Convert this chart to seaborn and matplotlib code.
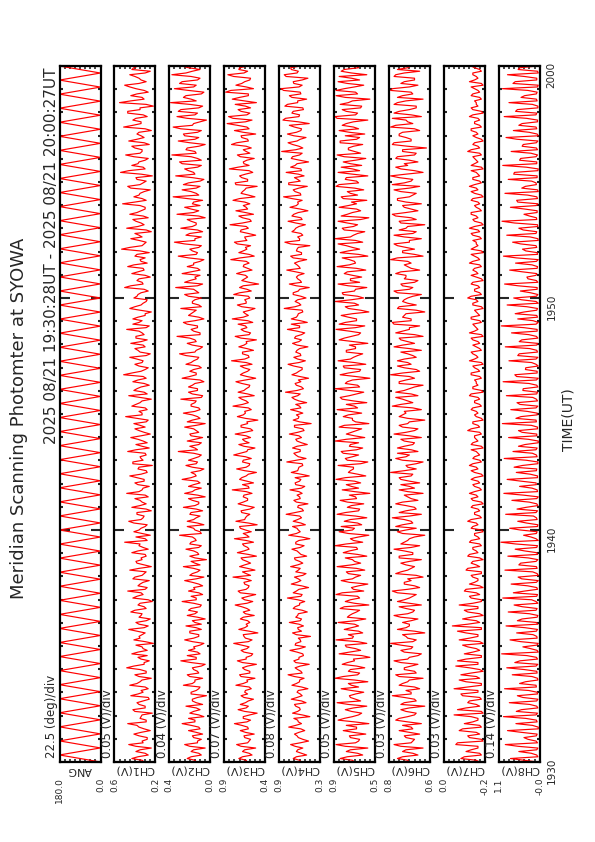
import numpy as np
import matplotlib
matplotlib.use("Agg")
import matplotlib.pyplot as plt
import seaborn as sns

title = "Meridian Scanning Photomter at SYOWA"
period = "2025 08/21 19:30:28UT - 2025 08/21 20:00:27UT"
time_ticks = [0, 10, 20, 30]          # minutes after 19:30 UT
time_labels = ["1930", "1940", "1950", "2000"]

names = ["ANG", "CH1(V)", "CH2(V)", "CH3(V)", "CH4(V)", "CH5(V)", "CH6(V)", "CH7(V)", "CH8(V)"]
units = ["deg", "V", "V", "V", "V", "V", "V", "V", "V"]
lows = [0.0, 0.2, 0.04, 0.36, 0.28, 0.5, 0.58, -0.2, -0.02]
steps = [22.5, 0.05, 0.04, 0.07, 0.08, 0.05, 0.03, 0.03, 0.14]

# scan mirror angle, turning points of the sweep
ang = [0, 180, 0, 180, 0, 180, 0, 180, 0, 180, 0, 180, 0, 180, 0, 180, 0, 180, 0, 180,
       0, 180, 0, 180, 0, 180, 0, 180, 0, 180, 0, 180, 0, 180, 0, 180, 0, 180, 0, 180,
       0, 180, 0, 180, 0, 180, 0, 180, 0, 180, 0, 180, 0, 180, 0, 180, 0, 180, 0, 180,
       0, 180, 0, 180, 0, 180, 0, 180, 0, 180, 0, 180, 0, 180, 0, 180, 0, 180, 0, 180,
       0, 180, 0, 180, 0, 180, 0, 180, 0, 180, 0, 180, 0, 180, 0, 180, 0, 180, 0, 180]

# photometer channels: samples of the up sweep and of the down sweep (volts)
ch1_up = [0.31, 0.43, 0.27, 0.39, 0.24, 0.46, 0.33, 0.28, 0.41, 0.25, 0.36, 0.47, 0.29, 0.34, 0.23, 0.42, 0.30, 0.38, 0.26, 0.44,
          0.32, 0.27, 0.45, 0.35, 0.24, 0.40, 0.29, 0.48, 0.31, 0.26, 0.37, 0.43, 0.28, 0.33, 0.22, 0.41, 0.36, 0.30, 0.46, 0.27,
          0.39, 0.25, 0.34, 0.44, 0.29, 0.37, 0.23, 0.42, 0.32, 0.47, 0.28, 0.35, 0.26, 0.40, 0.31, 0.45, 0.24, 0.38, 0.33, 0.29,
          0.43, 0.27, 0.36, 0.50, 0.30, 0.25, 0.41, 0.34, 0.28, 0.46, 0.32, 0.38, 0.24, 0.43, 0.29, 0.35, 0.27, 0.48, 0.33, 0.26,
          0.40, 0.31, 0.45, 0.28, 0.37, 0.23, 0.42, 0.34, 0.29, 0.47, 0.26, 0.39, 0.32, 0.44, 0.25, 0.36, 0.30, 0.41, 0.27, 0.49,
          0.33, 0.28, 0.43, 0.35, 0.24, 0.46, 0.31, 0.38, 0.26, 0.42, 0.29, 0.51, 0.34, 0.27, 0.40, 0.32, 0.45, 0.25, 0.37, 0.30,
          0.44, 0.28, 0.39, 0.33, 0.48, 0.26, 0.36, 0.42, 0.30, 0.24, 0.45, 0.34, 0.29, 0.41, 0.37, 0.27, 0.50, 0.32, 0.38, 0.25,
          0.43, 0.31, 0.47, 0.28, 0.35, 0.40, 0.26, 0.53, 0.33, 0.29, 0.44, 0.36, 0.24, 0.48, 0.31, 0.39, 0.27, 0.45, 0.34, 0.30,
          0.52, 0.29, 0.41, 0.35, 0.25, 0.47, 0.32, 0.38, 0.23, 0.54, 0.30, 0.43, 0.36, 0.27, 0.49, 0.33, 0.40, 0.26, 0.46, 0.31,
          0.38, 0.24, 0.51, 0.34, 0.42, 0.28, 0.47, 0.35, 0.22, 0.55, 0.31, 0.44, 0.27, 0.39, 0.50, 0.29, 0.36, 0.45, 0.25, 0.41]
ch1_down = [0.33, 0.37, 0.30, 0.35, 0.39, 0.32, 0.28, 0.36, 0.34, 0.31, 0.38, 0.29, 0.35, 0.33, 0.40, 0.30, 0.36, 0.32, 0.27, 0.37,
            0.34, 0.30, 0.38, 0.33, 0.36, 0.29, 0.35, 0.41, 0.31, 0.34, 0.28, 0.37, 0.32, 0.39, 0.30, 0.35, 0.33, 0.38, 0.31, 0.36,
            0.29, 0.36, 0.33, 0.40, 0.31, 0.35, 0.27, 0.38, 0.34, 0.30, 0.37, 0.32, 0.42, 0.33, 0.29, 0.36, 0.31, 0.39, 0.34, 0.30,
            0.37, 0.32, 0.35, 0.28, 0.39, 0.33, 0.36, 0.30, 0.41, 0.34, 0.31, 0.38, 0.29, 0.35, 0.33, 0.40, 0.30, 0.36, 0.32, 0.37,
            0.31, 0.38, 0.34, 0.29, 0.36, 0.42, 0.32, 0.35, 0.30, 0.39, 0.33, 0.28, 0.37, 0.34, 0.31, 0.40, 0.35, 0.29, 0.38, 0.33,
            0.36, 0.30, 0.39, 0.33, 0.35, 0.28, 0.41, 0.34, 0.31, 0.37, 0.32, 0.43, 0.30, 0.36, 0.33, 0.38, 0.29, 0.35, 0.40, 0.32,
            0.34, 0.39, 0.31, 0.36, 0.29, 0.42, 0.33, 0.37, 0.30, 0.35, 0.40, 0.32, 0.28, 0.38, 0.34, 0.31, 0.44, 0.33, 0.36, 0.30,
            0.37, 0.32, 0.41, 0.34, 0.30, 0.38, 0.35, 0.45, 0.31, 0.36, 0.33, 0.40, 0.29, 0.37, 0.34, 0.42, 0.32, 0.38, 0.30, 0.35,
            0.40, 0.33, 0.36, 0.31, 0.44, 0.35, 0.29, 0.39, 0.34, 0.46, 0.32, 0.37, 0.30, 0.41, 0.35, 0.33, 0.43, 0.31, 0.38, 0.34,
            0.36, 0.30, 0.42, 0.34, 0.39, 0.32, 0.47, 0.35, 0.29, 0.44, 0.33, 0.38, 0.31, 0.45, 0.36, 0.34, 0.40, 0.30, 0.43, 0.37]

ch2_up = [0.15, 0.22, 0.11, 0.19, 0.08, 0.24, 0.14, 0.17, 0.10, 0.21, 0.13, 0.26, 0.16, 0.09, 0.20, 0.12, 0.23, 0.15, 0.18, 0.07,
          0.19, 0.13, 0.25, 0.16, 0.10, 0.22, 0.14, 0.18, 0.08, 0.27, 0.15, 0.12, 0.21, 0.17, 0.09, 0.24, 0.13, 0.20, 0.11, 0.23,
          0.16, 0.08, 0.22, 0.14, 0.19, 0.11, 0.26, 0.15, 0.10, 0.21, 0.17, 0.13, 0.24, 0.09, 0.18, 0.12, 0.25, 0.16, 0.07, 0.20,
          0.14, 0.23, 0.11, 0.19, 0.16, 0.28, 0.12, 0.17, 0.09, 0.22, 0.15, 0.20, 0.10, 0.25, 0.13, 0.18, 0.08, 0.24, 0.16, 0.21,
          0.12, 0.26, 0.15, 0.19, 0.09, 0.23, 0.14, 0.17, 0.11, 0.29, 0.16, 0.13, 0.22, 0.10, 0.20, 0.15, 0.24, 0.08, 0.18, 0.14,
          0.25, 0.12, 0.19, 0.16, 0.27, 0.10, 0.21, 0.14, 0.18, 0.09, 0.26, 0.15, 0.20, 0.11, 0.23, 0.17, 0.13, 0.28, 0.15, 0.10,
          0.22, 0.16, 0.30, 0.12, 0.19, 0.14, 0.25, 0.09, 0.21, 0.17, 0.27, 0.13, 0.18, 0.11, 0.24, 0.15, 0.31, 0.10, 0.20, 0.16,
          0.26, 0.12, 0.22, 0.17, 0.09, 0.29, 0.14, 0.20, 0.11, 0.32, 0.16, 0.23, 0.10, 0.27, 0.15, 0.19, 0.08, 0.30, 0.13, 0.24,
          0.18, 0.10, 0.33, 0.15, 0.26, 0.12, 0.21, 0.09, 0.31, 0.17, 0.24, 0.11, 0.28, 0.14, 0.34, 0.16, 0.22, 0.08, 0.29, 0.13,
          0.25, 0.11, 0.33, 0.17, 0.07, 0.30, 0.14, 0.27, 0.10, 0.35, 0.19, 0.23, 0.09, 0.32, 0.15, 0.26, 0.12, 0.34, 0.18, 0.21]
ch2_down = [0.16, 0.19, 0.13, 0.17, 0.20, 0.14, 0.11, 0.18, 0.15, 0.12, 0.19, 0.16, 0.21, 0.13, 0.17, 0.15, 0.10, 0.18, 0.14, 0.19,
            0.15, 0.12, 0.18, 0.16, 0.20, 0.13, 0.17, 0.11, 0.19, 0.15, 0.22, 0.14, 0.16, 0.12, 0.18, 0.17, 0.13, 0.20, 0.15, 0.11,
            0.18, 0.14, 0.16, 0.21, 0.12, 0.17, 0.15, 0.19, 0.13, 0.16, 0.10, 0.18, 0.15, 0.20, 0.14, 0.17, 0.12, 0.19, 0.16, 0.13,
            0.17, 0.13, 0.20, 0.15, 0.18, 0.11, 0.16, 0.22, 0.14, 0.17, 0.12, 0.19, 0.15, 0.16, 0.13, 0.21, 0.14, 0.18, 0.11, 0.17,
            0.14, 0.19, 0.16, 0.12, 0.18, 0.15, 0.21, 0.13, 0.17, 0.14, 0.20, 0.11, 0.16, 0.19, 0.13, 0.17, 0.15, 0.22, 0.12, 0.18,
            0.16, 0.13, 0.19, 0.15, 0.11, 0.18, 0.14, 0.21, 0.16, 0.12, 0.20, 0.15, 0.17, 0.13, 0.19, 0.14, 0.23, 0.16, 0.12, 0.18,
            0.15, 0.20, 0.12, 0.17, 0.14, 0.22, 0.16, 0.13, 0.19, 0.15, 0.11, 0.18, 0.16, 0.21, 0.13, 0.17, 0.14, 0.24, 0.15, 0.12,
            0.19, 0.14, 0.17, 0.12, 0.21, 0.15, 0.18, 0.13, 0.24, 0.16, 0.11, 0.20, 0.14, 0.18, 0.15, 0.22, 0.13, 0.17, 0.19, 0.12,
            0.17, 0.22, 0.13, 0.19, 0.15, 0.25, 0.12, 0.18, 0.16, 0.21, 0.14, 0.26, 0.11, 0.19, 0.15, 0.23, 0.13, 0.20, 0.16, 0.24,
            0.14, 0.27, 0.18, 0.12, 0.22, 0.16, 0.29, 0.13, 0.20, 0.15, 0.25, 0.11, 0.21, 0.17, 0.28, 0.14, 0.19, 0.23, 0.12, 0.26]

ch3_up = [0.61, 0.72, 0.54, 0.67, 0.49, 0.75, 0.58, 0.64, 0.51, 0.70, 0.60, 0.78, 0.56, 0.66, 0.47, 0.73, 0.59, 0.63, 0.52, 0.69,
          0.64, 0.55, 0.76, 0.60, 0.50, 0.71, 0.57, 0.67, 0.48, 0.74, 0.62, 0.53, 0.69, 0.58, 0.79, 0.54, 0.65, 0.46, 0.72, 0.60,
          0.57, 0.70, 0.51, 0.66, 0.61, 0.77, 0.53, 0.68, 0.49, 0.73, 0.59, 0.64, 0.55, 0.80, 0.62, 0.50, 0.71, 0.56, 0.67, 0.48,
          0.74, 0.58, 0.65, 0.52, 0.78, 0.61, 0.55, 0.70, 0.47, 0.76, 0.63, 0.57, 0.69, 0.51, 0.73, 0.60, 0.66, 0.54, 0.81, 0.59,
          0.52, 0.71, 0.62, 0.48, 0.75, 0.58, 0.67, 0.55, 0.79, 0.61, 0.50, 0.72, 0.64, 0.56, 0.77, 0.53, 0.69, 0.60, 0.46, 0.74,
          0.63, 0.55, 0.80, 0.59, 0.68, 0.51, 0.73, 0.62, 0.57, 0.76, 0.49, 0.70, 0.60, 0.65, 0.54, 0.82, 0.58, 0.67, 0.52, 0.72,
          0.61, 0.48, 0.77, 0.56, 0.69, 0.63, 0.53, 0.81, 0.59, 0.66, 0.50, 0.74, 0.62, 0.57, 0.79, 0.55, 0.71, 0.45, 0.68, 0.60,
          0.75, 0.54, 0.66, 0.58, 0.83, 0.51, 0.72, 0.61, 0.56, 0.78, 0.63, 0.49, 0.70, 0.59, 0.84, 0.55, 0.67, 0.52, 0.76, 0.62,
          0.57, 0.80, 0.50, 0.69, 0.64, 0.47, 0.77, 0.60, 0.71, 0.53, 0.85, 0.58, 0.66, 0.51, 0.74, 0.62, 0.55, 0.82, 0.59, 0.68,
          0.49, 0.78, 0.61, 0.88, 0.54, 0.86, 0.57, 0.73, 0.63, 0.48, 0.81, 0.59, 0.90, 0.52, 0.76, 0.64, 0.56, 0.87, 0.60, 0.71]
ch3_down = [0.62, 0.67, 0.58, 0.64, 0.69, 0.60, 0.56, 0.65, 0.63, 0.59, 0.68, 0.61, 0.66, 0.57, 0.64, 0.62, 0.70, 0.59, 0.65, 0.60,
            0.63, 0.58, 0.66, 0.61, 0.69, 0.57, 0.64, 0.60, 0.67, 0.62, 0.55, 0.65, 0.61, 0.68, 0.59, 0.63, 0.66, 0.58, 0.64, 0.62,
            0.60, 0.66, 0.63, 0.57, 0.68, 0.61, 0.64, 0.59, 0.70, 0.62, 0.58, 0.65, 0.63, 0.56, 0.67, 0.60, 0.64, 0.61, 0.69, 0.59,
            0.65, 0.60, 0.67, 0.62, 0.58, 0.66, 0.63, 0.71, 0.59, 0.64, 0.61, 0.68, 0.57, 0.63, 0.66, 0.60, 0.65, 0.62, 0.58, 0.67,
            0.61, 0.68, 0.59, 0.64, 0.62, 0.57, 0.66, 0.63, 0.70, 0.60, 0.65, 0.58, 0.67, 0.62, 0.64, 0.56, 0.69, 0.61, 0.63, 0.66,
            0.64, 0.59, 0.67, 0.62, 0.72, 0.60, 0.65, 0.58, 0.68, 0.63, 0.61, 0.66, 0.57, 0.70, 0.62, 0.64, 0.59, 0.67, 0.61, 0.65,
            0.62, 0.69, 0.58, 0.65, 0.61, 0.73, 0.60, 0.66, 0.63, 0.57, 0.68, 0.62, 0.64, 0.59, 0.71, 0.61, 0.66, 0.58, 0.64, 0.63,
            0.67, 0.60, 0.65, 0.62, 0.70, 0.58, 0.66, 0.63, 0.74, 0.61, 0.64, 0.59, 0.69, 0.62, 0.67, 0.57, 0.72, 0.63, 0.60, 0.66,
            0.64, 0.71, 0.59, 0.67, 0.62, 0.76, 0.60, 0.68, 0.63, 0.58, 0.73, 0.65, 0.61, 0.70, 0.57, 0.66, 0.62, 0.75, 0.60, 0.69,
            0.66, 0.58, 0.74, 0.63, 0.80, 0.61, 0.69, 0.56, 0.77, 0.64, 0.71, 0.59, 0.83, 0.62, 0.68, 0.57, 0.79, 0.65, 0.72, 0.60]

ch4_up = [0.58, 0.70, 0.49, 0.65, 0.55, 0.74, 0.46, 0.62, 0.68, 0.52, 0.77, 0.57, 0.63, 0.44, 0.71, 0.59, 0.66, 0.50, 0.73, 0.56,
          0.64, 0.47, 0.72, 0.60, 0.53, 0.78, 0.58, 0.67, 0.45, 0.69, 0.61, 0.55, 0.75, 0.51, 0.66, 0.59, 0.43, 0.71, 0.62, 0.54,
          0.76, 0.57, 0.63, 0.48, 0.70, 0.60, 0.52, 0.79, 0.56, 0.65, 0.46, 0.73, 0.58, 0.68, 0.50, 0.62, 0.74, 0.55, 0.67, 0.49,
          0.61, 0.72, 0.53, 0.66, 0.44, 0.77, 0.59, 0.64, 0.51, 0.70, 0.57, 0.81, 0.54, 0.63, 0.47, 0.69, 0.60, 0.56, 0.75, 0.52,
          0.67, 0.58, 0.45, 0.73, 0.62, 0.55, 0.80, 0.50, 0.66, 0.59, 0.71, 0.48, 0.64, 0.57, 0.76, 0.53, 0.68, 0.42, 0.70, 0.61,
          0.55, 0.74, 0.60, 0.49, 0.68, 0.63, 0.82, 0.54, 0.65, 0.58, 0.46, 0.72, 0.61, 0.56, 0.78, 0.51, 0.69, 0.59, 0.64, 0.47,
          0.71, 0.57, 0.66, 0.52, 0.79, 0.60, 0.48, 0.73, 0.63, 0.55, 0.84, 0.58, 0.67, 0.50, 0.70, 0.62, 0.45, 0.76, 0.59, 0.65,
          0.53, 0.80, 0.61, 0.68, 0.49, 0.74, 0.57, 0.64, 0.44, 0.83, 0.60, 0.55, 0.72, 0.66, 0.51, 0.78, 0.58, 0.69, 0.47, 0.75,
          0.62, 0.56, 0.85, 0.59, 0.70, 0.48, 0.77, 0.63, 0.53, 0.81, 0.58, 0.67, 0.46, 0.73, 0.60, 0.88, 0.55, 0.71, 0.64, 0.50,
          0.79, 0.58, 0.68, 0.45, 0.86, 0.61, 0.72, 0.54, 0.83, 0.63, 0.49, 0.76, 0.59, 0.89, 0.56, 0.70, 0.47, 0.84, 0.62, 0.74]
ch4_down = [0.60, 0.65, 0.57, 0.63, 0.67, 0.59, 0.55, 0.64, 0.61, 0.58, 0.66, 0.62, 0.69, 0.56, 0.63, 0.60, 0.68, 0.57, 0.64, 0.59,
            0.62, 0.57, 0.65, 0.60, 0.68, 0.56, 0.63, 0.59, 0.66, 0.61, 0.54, 0.64, 0.60, 0.67, 0.58, 0.62, 0.65, 0.57, 0.63, 0.61,
            0.59, 0.66, 0.62, 0.56, 0.67, 0.60, 0.63, 0.58, 0.70, 0.61, 0.57, 0.64, 0.62, 0.55, 0.66, 0.59, 0.63, 0.60, 0.68, 0.58,
            0.64, 0.59, 0.66, 0.61, 0.57, 0.65, 0.62, 0.71, 0.58, 0.63, 0.60, 0.67, 0.56, 0.62, 0.65, 0.59, 0.64, 0.61, 0.57, 0.66,
            0.60, 0.67, 0.58, 0.63, 0.61, 0.56, 0.65, 0.62, 0.69, 0.59, 0.64, 0.57, 0.66, 0.61, 0.63, 0.55, 0.68, 0.60, 0.62, 0.65,
            0.63, 0.58, 0.66, 0.61, 0.72, 0.59, 0.64, 0.57, 0.67, 0.62, 0.60, 0.65, 0.56, 0.69, 0.61, 0.63, 0.58, 0.66, 0.60, 0.64,
            0.61, 0.68, 0.57, 0.64, 0.60, 0.73, 0.59, 0.65, 0.62, 0.56, 0.67, 0.61, 0.63, 0.58, 0.70, 0.60, 0.65, 0.57, 0.63, 0.62,
            0.66, 0.59, 0.64, 0.61, 0.70, 0.57, 0.65, 0.62, 0.74, 0.60, 0.63, 0.58, 0.68, 0.61, 0.66, 0.56, 0.72, 0.62, 0.59, 0.65,
            0.63, 0.72, 0.58, 0.67, 0.61, 0.77, 0.59, 0.68, 0.62, 0.57, 0.74, 0.64, 0.60, 0.71, 0.56, 0.66, 0.61, 0.78, 0.59, 0.69,
            0.65, 0.57, 0.76, 0.62, 0.82, 0.60, 0.70, 0.55, 0.79, 0.63, 0.72, 0.58, 0.85, 0.61, 0.69, 0.56, 0.81, 0.64, 0.73, 0.59]

ch5_up = [0.70, 0.84, 0.62, 0.78, 0.57, 0.88, 0.66, 0.74, 0.59, 0.81, 0.68, 0.56, 0.86, 0.72, 0.63, 0.79, 0.58, 0.87, 0.69, 0.75,
          0.61, 0.83, 0.73, 0.57, 0.89, 0.67, 0.76, 0.60, 0.82, 0.70, 0.55, 0.85, 0.64, 0.78, 0.58, 0.88, 0.71, 0.62, 0.80, 0.66,
          0.86, 0.59, 0.75, 0.68, 0.84, 0.56, 0.79, 0.65, 0.88, 0.61, 0.73, 0.57, 0.83, 0.69, 0.76, 0.60, 0.87, 0.64, 0.72, 0.58,
          0.81, 0.67, 0.89, 0.62, 0.74, 0.56, 0.85, 0.70, 0.63, 0.80, 0.58, 0.87, 0.66, 0.77, 0.61, 0.84, 0.69, 0.55, 0.82, 0.73,
          0.64, 0.88, 0.59, 0.76, 0.71, 0.86, 0.57, 0.79, 0.66, 0.83, 0.62, 0.74, 0.89, 0.60, 0.78, 0.68, 0.85, 0.56, 0.72, 0.81,
          0.63, 0.87, 0.70, 0.58, 0.82, 0.75, 0.61, 0.89, 0.67, 0.77, 0.55, 0.84, 0.65, 0.80, 0.59, 0.86, 0.71, 0.62, 0.78, 0.69,
          0.57, 0.85, 0.73, 0.64, 0.88, 0.60, 0.79, 0.68, 0.83, 0.56, 0.76, 0.66, 0.89, 0.61, 0.81, 0.70, 0.58, 0.86, 0.74, 0.63,
          0.80, 0.59, 0.87, 0.69, 0.75, 0.57, 0.84, 0.65, 0.78, 0.62, 0.89, 0.71, 0.60, 0.82, 0.67, 0.86, 0.56, 0.77, 0.64, 0.85,
          0.68, 0.58, 0.83, 0.74, 0.61, 0.88, 0.66, 0.79, 0.57, 0.86, 0.72, 0.63, 0.81, 0.59, 0.87, 0.70, 0.76, 0.62, 0.84, 0.65,
          0.60, 0.85, 0.71, 0.78, 0.57, 0.89, 0.67, 0.82, 0.63, 0.76, 0.55, 0.88, 0.69, 0.80, 0.61, 0.86, 0.73, 0.58, 0.83, 0.66]
ch5_down = [0.72, 0.77, 0.67, 0.74, 0.79, 0.69, 0.65, 0.75, 0.71, 0.68, 0.78, 0.70, 0.80, 0.66, 0.73, 0.71, 0.76, 0.64, 0.74, 0.69,
            0.73, 0.66, 0.76, 0.70, 0.81, 0.65, 0.74, 0.68, 0.77, 0.71, 0.63, 0.75, 0.69, 0.79, 0.67, 0.72, 0.76, 0.66, 0.73, 0.70,
            0.69, 0.77, 0.72, 0.65, 0.80, 0.70, 0.74, 0.67, 0.82, 0.71, 0.66, 0.75, 0.72, 0.64, 0.78, 0.68, 0.73, 0.70, 0.79, 0.67,
            0.75, 0.68, 0.78, 0.71, 0.66, 0.76, 0.72, 0.83, 0.67, 0.74, 0.69, 0.79, 0.65, 0.73, 0.77, 0.68, 0.75, 0.70, 0.66, 0.78,
            0.70, 0.79, 0.67, 0.74, 0.71, 0.64, 0.77, 0.72, 0.81, 0.68, 0.75, 0.66, 0.78, 0.70, 0.73, 0.63, 0.80, 0.69, 0.72, 0.76,
            0.74, 0.67, 0.78, 0.71, 0.84, 0.68, 0.75, 0.65, 0.79, 0.72, 0.69, 0.76, 0.64, 0.81, 0.70, 0.74, 0.67, 0.78, 0.69, 0.75,
            0.71, 0.80, 0.66, 0.75, 0.69, 0.85, 0.68, 0.76, 0.72, 0.64, 0.79, 0.70, 0.73, 0.67, 0.82, 0.69, 0.76, 0.65, 0.74, 0.72,
            0.77, 0.68, 0.75, 0.70, 0.82, 0.66, 0.76, 0.72, 0.86, 0.69, 0.74, 0.67, 0.80, 0.71, 0.77, 0.64, 0.83, 0.72, 0.68, 0.76,
            0.73, 0.81, 0.67, 0.77, 0.70, 0.85, 0.68, 0.78, 0.72, 0.65, 0.83, 0.74, 0.69, 0.80, 0.64, 0.76, 0.71, 0.84, 0.68, 0.79,
            0.75, 0.66, 0.82, 0.71, 0.87, 0.69, 0.78, 0.64, 0.84, 0.72, 0.79, 0.67, 0.88, 0.70, 0.77, 0.65, 0.85, 0.73, 0.80, 0.68]

ch6_up = [0.70, 0.77, 0.65, 0.74, 0.62, 0.79, 0.68, 0.72, 0.64, 0.76, 0.69, 0.63, 0.78, 0.71, 0.66, 0.75, 0.61, 0.73, 0.67, 0.80,
          0.69, 0.64, 0.76, 0.71, 0.62, 0.78, 0.67, 0.73, 0.65, 0.79, 0.70, 0.63, 0.75, 0.68, 0.81, 0.66, 0.72, 0.61, 0.77, 0.70,
          0.74, 0.65, 0.79, 0.68, 0.72, 0.63, 0.77, 0.70, 0.66, 0.80, 0.64, 0.73, 0.69, 0.62, 0.78, 0.71, 0.67, 0.75, 0.63, 0.76,
          0.68, 0.79, 0.64, 0.73, 0.70, 0.61, 0.77, 0.66, 0.74, 0.69, 0.80, 0.63, 0.72, 0.67, 0.78, 0.65, 0.71, 0.62, 0.76, 0.70,
          0.64, 0.75, 0.69, 0.81, 0.66, 0.72, 0.62, 0.78, 0.70, 0.65, 0.77, 0.68, 0.73, 0.63, 0.79, 0.67, 0.74, 0.71, 0.61, 0.76,
          0.72, 0.63, 0.80, 0.68, 0.74, 0.65, 0.78, 0.70, 0.62, 0.76, 0.67, 0.81, 0.64, 0.73, 0.69, 0.77, 0.66, 0.71, 0.63, 0.79,
          0.67, 0.75, 0.62, 0.78, 0.70, 0.64, 0.80, 0.69, 0.73, 0.61, 0.77, 0.66, 0.74, 0.71, 0.63, 0.79, 0.68, 0.75, 0.65, 0.72,
          0.78, 0.64, 0.71, 0.69, 0.81, 0.62, 0.74, 0.67, 0.77, 0.70, 0.63, 0.79, 0.66, 0.72, 0.61, 0.76, 0.69, 0.80, 0.65, 0.73,
          0.63, 0.77, 0.70, 0.66, 0.79, 0.64, 0.73, 0.68, 0.81, 0.62, 0.75, 0.71, 0.65, 0.78, 0.67, 0.74, 0.60, 0.80, 0.69, 0.72,
          0.76, 0.64, 0.81, 0.68, 0.72, 0.63, 0.79, 0.70, 0.66, 0.77, 0.62, 0.74, 0.69, 0.80, 0.65, 0.73, 0.67, 0.78, 0.64, 0.71]
ch6_down = [0.71, 0.74, 0.68, 0.72, 0.75, 0.69, 0.67, 0.73, 0.70, 0.68, 0.74, 0.71, 0.76, 0.67, 0.72, 0.70, 0.75, 0.66, 0.73, 0.69,
            0.72, 0.67, 0.74, 0.70, 0.76, 0.66, 0.73, 0.69, 0.75, 0.71, 0.65, 0.73, 0.69, 0.75, 0.68, 0.71, 0.74, 0.67, 0.72, 0.70,
            0.69, 0.75, 0.71, 0.67, 0.76, 0.70, 0.73, 0.68, 0.77, 0.71, 0.67, 0.73, 0.71, 0.66, 0.75, 0.69, 0.72, 0.70, 0.76, 0.68,
            0.73, 0.69, 0.75, 0.71, 0.67, 0.74, 0.72, 0.78, 0.68, 0.73, 0.70, 0.76, 0.66, 0.72, 0.74, 0.69, 0.73, 0.71, 0.67, 0.75,
            0.70, 0.76, 0.68, 0.73, 0.71, 0.66, 0.74, 0.72, 0.77, 0.69, 0.73, 0.67, 0.75, 0.70, 0.72, 0.65, 0.76, 0.70, 0.71, 0.74,
            0.73, 0.68, 0.75, 0.71, 0.78, 0.69, 0.73, 0.67, 0.76, 0.72, 0.70, 0.74, 0.66, 0.77, 0.71, 0.73, 0.68, 0.75, 0.70, 0.74,
            0.71, 0.76, 0.67, 0.74, 0.70, 0.79, 0.69, 0.74, 0.72, 0.66, 0.76, 0.71, 0.73, 0.68, 0.77, 0.70, 0.74, 0.67, 0.73, 0.72,
            0.75, 0.69, 0.73, 0.71, 0.77, 0.67, 0.74, 0.72, 0.79, 0.70, 0.73, 0.68, 0.76, 0.71, 0.75, 0.66, 0.78, 0.72, 0.69, 0.74,
            0.72, 0.77, 0.68, 0.75, 0.70, 0.80, 0.69, 0.76, 0.72, 0.67, 0.78, 0.73, 0.70, 0.77, 0.66, 0.74, 0.71, 0.79, 0.69, 0.76,
            0.74, 0.67, 0.78, 0.71, 0.80, 0.69, 0.76, 0.66, 0.79, 0.72, 0.77, 0.68, 0.81, 0.70, 0.75, 0.67, 0.79, 0.73, 0.77, 0.69]

ch7_up = [-0.17, -0.06, -0.18, -0.09, -0.16, -0.03, -0.19, -0.11, -0.17, -0.05, -0.18, -0.08, -0.16, -0.12, -0.19, -0.04, -0.17, -0.10, -0.18, -0.07,
          -0.16, -0.02, -0.18, -0.09, -0.17, -0.06, -0.19, -0.11, -0.16, -0.04, -0.18, -0.08, -0.17, -0.10, -0.19, -0.05, -0.16, -0.09, -0.18, -0.01,
          -0.17, -0.07, -0.19, -0.10, -0.16, -0.05, -0.18, -0.12, -0.17, -0.08, -0.19, -0.11, -0.16, -0.13, -0.18, -0.09, -0.17, -0.12, -0.19, -0.10,
          -0.16, -0.13, -0.18, -0.11, -0.17, -0.14, -0.19, -0.12, -0.16, -0.10, -0.18, -0.14, -0.17, -0.12, -0.19, -0.13, -0.16, -0.11, -0.18, -0.14,
          -0.17, -0.12, -0.19, -0.14, -0.16, -0.11, -0.18, -0.13, -0.17, -0.15, -0.19, -0.12, -0.16, -0.14, -0.18, -0.10, -0.17, -0.13, -0.19, -0.15,
          -0.16, -0.12, -0.18, -0.14, -0.17, -0.11, -0.19, -0.13, -0.16, -0.15, -0.18, -0.12, -0.17, -0.14, -0.19, -0.11, -0.16, -0.13, -0.18, -0.15,
          -0.17, -0.13, -0.19, -0.11, -0.16, -0.14, -0.18, -0.12, -0.17, -0.15, -0.19, -0.13, -0.16, -0.10, -0.18, -0.14, -0.17, -0.12, -0.19, -0.15,
          -0.16, -0.13, -0.18, -0.11, -0.17, -0.14, -0.19, -0.12, -0.16, -0.15, -0.18, -0.13, -0.17, -0.11, -0.19, -0.14, -0.16, -0.12, -0.18, -0.15,
          -0.17, -0.12, -0.19, -0.14, -0.16, -0.11, -0.18, -0.13, -0.17, -0.15, -0.19, -0.12, -0.16, -0.14, -0.18, -0.10, -0.17, -0.13, -0.19, -0.15,
          -0.16, -0.12, -0.18, -0.14, -0.17, -0.11, -0.19, -0.13, -0.16, -0.15, -0.18, -0.12, -0.17, -0.14, -0.19, -0.11, -0.16, -0.13, -0.18, -0.14]
ch7_down = [-0.15, -0.08, -0.17, -0.12, -0.16, -0.04, -0.18, -0.10, -0.15, -0.07, -0.17, -0.13, -0.16, -0.02, -0.18, -0.09, -0.15, -0.11, -0.17, -0.06,
            -0.16, -0.10, -0.18, -0.05, -0.15, -0.12, -0.17, -0.03, -0.16, -0.09, -0.18, -0.13, -0.15, -0.07, -0.17, -0.11, -0.16, -0.04, -0.18, -0.10,
            -0.15, -0.12, -0.17, -0.08, -0.16, -0.13, -0.18, -0.11, -0.15, -0.09, -0.17, -0.14, -0.16, -0.12, -0.18, -0.10, -0.15, -0.13, -0.17, -0.11,
            -0.15, -0.13, -0.17, -0.12, -0.16, -0.14, -0.18, -0.13, -0.15, -0.12, -0.17, -0.14, -0.16, -0.13, -0.18, -0.12, -0.15, -0.14, -0.17, -0.13,
            -0.16, -0.14, -0.18, -0.12, -0.15, -0.13, -0.17, -0.14, -0.16, -0.12, -0.18, -0.13, -0.15, -0.14, -0.17, -0.12, -0.16, -0.13, -0.18, -0.14,
            -0.15, -0.13, -0.17, -0.14, -0.16, -0.12, -0.18, -0.13, -0.15, -0.14, -0.17, -0.12, -0.16, -0.13, -0.18, -0.14, -0.15, -0.12, -0.17, -0.13,
            -0.16, -0.12, -0.18, -0.14, -0.15, -0.13, -0.17, -0.12, -0.16, -0.14, -0.18, -0.13, -0.15, -0.12, -0.17, -0.14, -0.16, -0.13, -0.18, -0.12,
            -0.15, -0.14, -0.17, -0.13, -0.16, -0.12, -0.18, -0.14, -0.15, -0.13, -0.17, -0.12, -0.16, -0.14, -0.18, -0.13, -0.15, -0.12, -0.17, -0.14,
            -0.16, -0.13, -0.18, -0.12, -0.15, -0.14, -0.17, -0.13, -0.16, -0.12, -0.18, -0.14, -0.15, -0.13, -0.17, -0.12, -0.16, -0.14, -0.18, -0.13,
            -0.15, -0.12, -0.17, -0.14, -0.16, -0.13, -0.18, -0.12, -0.15, -0.14, -0.17, -0.13, -0.16, -0.12, -0.18, -0.14, -0.15, -0.13, -0.17, -0.12]

ch8_up = [0.04, 0.78, 0.06, 0.55, 0.03, 0.92, 0.08, 0.41, 0.05, 0.86, 0.02, 0.63, 0.07, 0.97, 0.04, 0.48, 0.06, 0.81, 0.03, 0.59,
          0.05, 0.94, 0.08, 0.37, 0.04, 0.73, 0.06, 0.88, 0.03, 0.52, 0.07, 1.02, 0.05, 0.44, 0.02, 0.79, 0.06, 0.61, 0.04, 0.90,
          0.07, 0.46, 0.03, 0.84, 0.05, 0.68, 0.08, 0.99, 0.04, 0.39, 0.06, 0.76, 0.02, 0.57, 0.05, 0.93, 0.07, 0.50, 0.03, 0.85,
          0.06, 0.65, 0.04, 1.04, 0.08, 0.42, 0.05, 0.80, 0.03, 0.58, 0.07, 0.91, 0.04, 0.35, 0.06, 0.74, 0.02, 0.96, 0.05, 0.53,
          0.08, 0.87, 0.04, 0.62, 0.06, 0.45, 0.03, 0.95, 0.07, 0.71, 0.05, 0.38, 0.02, 0.83, 0.06, 0.56, 0.04, 1.00, 0.08, 0.49,
          0.05, 0.77, 0.03, 0.60, 0.07, 0.89, 0.04, 0.43, 0.06, 0.98, 0.02, 0.66, 0.05, 0.36, 0.08, 0.82, 0.03, 0.54, 0.06, 0.92,
          0.04, 0.47, 0.07, 0.75, 0.05, 1.03, 0.02, 0.58, 0.06, 0.40, 0.04, 0.87, 0.08, 0.69, 0.03, 0.51, 0.05, 0.94, 0.07, 0.33,
          0.06, 0.80, 0.04, 0.64, 0.02, 0.97, 0.05, 0.45, 0.08, 0.72, 0.03, 0.88, 0.06, 0.55, 0.04, 1.01, 0.07, 0.41, 0.05, 0.78,
          0.03, 0.61, 0.06, 0.93, 0.04, 0.37, 0.08, 0.84, 0.05, 0.67, 0.02, 0.99, 0.06, 0.50, 0.04, 0.76, 0.07, 0.43, 0.03, 0.90,
          0.05, 0.70, 0.08, 0.46, 0.04, 0.95, 0.06, 0.59, 0.03, 0.82, 0.07, 0.39, 0.05, 1.00, 0.02, 0.65, 0.06, 0.86, 0.04, 0.52]
ch8_down = [0.42, 0.03, 0.21, 0.06, 0.57, 0.04, 0.30, 0.07, 0.48, 0.02, 0.18, 0.05, 0.36, 0.08, 0.62, 0.03, 0.25, 0.06, 0.44, 0.04,
            0.28, 0.07, 0.53, 0.03, 0.19, 0.05, 0.40, 0.08, 0.66, 0.04, 0.33, 0.02, 0.23, 0.06, 0.50, 0.05, 0.16, 0.07, 0.38, 0.03,
            0.59, 0.05, 0.26, 0.08, 0.45, 0.03, 0.20, 0.06, 0.70, 0.04, 0.31, 0.07, 0.47, 0.02, 0.17, 0.05, 0.55, 0.08, 0.29, 0.04,
            0.39, 0.06, 0.64, 0.02, 0.22, 0.07, 0.51, 0.04, 0.34, 0.05, 0.15, 0.08, 0.60, 0.03, 0.27, 0.06, 0.43, 0.04, 0.19, 0.07,
            0.49, 0.04, 0.24, 0.07, 0.68, 0.03, 0.35, 0.05, 0.18, 0.08, 0.56, 0.02, 0.29, 0.06, 0.46, 0.04, 0.21, 0.07, 0.63, 0.05,
            0.32, 0.08, 0.52, 0.04, 0.17, 0.06, 0.44, 0.03, 0.27, 0.07, 0.61, 0.05, 0.37, 0.02, 0.20, 0.08, 0.58, 0.04, 0.25, 0.06,
            0.54, 0.03, 0.28, 0.05, 0.41, 0.08, 0.16, 0.04, 0.65, 0.06, 0.33, 0.02, 0.48, 0.07, 0.23, 0.05, 0.57, 0.03, 0.30, 0.08,
            0.45, 0.05, 0.19, 0.07, 0.62, 0.04, 0.36, 0.06, 0.50, 0.02, 0.24, 0.08, 0.43, 0.03, 0.67, 0.06, 0.26, 0.05, 0.39, 0.07,
            0.58, 0.04, 0.31, 0.02, 0.47, 0.07, 0.20, 0.05, 0.69, 0.03, 0.35, 0.06, 0.53, 0.08, 0.22, 0.04, 0.46, 0.07, 0.60, 0.02,
            0.27, 0.06, 0.55, 0.04, 0.34, 0.08, 0.64, 0.03, 0.18, 0.05, 0.49, 0.07, 0.30, 0.04, 0.71, 0.06, 0.40, 0.02, 0.57, 0.05]

channels = [(ch1_up, ch1_down), (ch2_up, ch2_down), (ch3_up, ch3_down), (ch4_up, ch4_down),
            (ch5_up, ch5_down), (ch6_up, ch6_down), (ch7_up, ch7_down), (ch8_up, ch8_down)]

# one time series per panel: up and down sweep samples alternate in time
series = [np.array(ang, dtype=float)]
for up, down in channels:
    series.append(np.column_stack([up, down]).ravel())

sns.set_style("white")
plt.rcParams["font.family"] = ["DejaVu Sans"]

fig = plt.figure(figsize=(5.95, 8.42), dpi=100)
W, H = 595.0, 842.0

for i, vals in enumerate(series):
    lo, step = lows[i], steps[i]
    hi = lo + 8 * step
    ax = fig.add_axes([(59.5 + 54.9 * i) / W, 80 / H, 41 / W, 696 / H])
    t = np.linspace(0, 30, len(vals))
    sns.lineplot(x=vals, y=t, sort=False, estimator=None,
                 color="#ff0000", linewidth=0.85, ax=ax)
    ax.set_xlim(hi, lo)
    ax.set_ylim(0, 30)
    ax.set_xlabel("")
    ax.set_ylabel("")

    div_ticks = [lo + k * step for k in range(9)]
    div_labels = [""] * 9
    div_labels[0] = f"{lo:.1f}"
    div_labels[-1] = f"{hi:.1f}"
    ax.set_xticks(div_ticks)
    ax.set_xticklabels(div_labels, rotation=90, fontsize=6.5)
    ax.tick_params(axis="x", direction="in", length=2.5, width=1.2,
                   top=True, bottom=True, pad=11)

    ax.set_yticks(time_ticks)
    ax.set_yticks(range(0, 31), minor=True)
    ax.set_yticklabels(time_labels, rotation=90, fontsize=7.5)
    ax.tick_params(axis="y", which="major", direction="in", length=7, width=1.5,
                   left=True, right=True, labelleft=False, labelright=(i == 8), pad=5)
    ax.tick_params(axis="y", which="minor", direction="in", length=2.2, width=1.5,
                   left=True, right=True)

    for s in ax.spines.values():
        s.set_linewidth(1.6)
        s.set_color("black")

    ax.text(-0.19, 0.006, f"{step} ({units[i]})/div", transform=ax.transAxes,
            rotation=90, ha="center", va="bottom", fontsize=8.5)
    ax.text(0.5, -0.004, names[i], transform=ax.transAxes,
            rotation=180, ha="center", va="top", fontsize=8)

fig.text(19 / W, 1 - 418 / H, title, rotation=90, ha="center", va="center", fontsize=13)
fig.text(52 / W, 1 - 67 / H, period, rotation=90, ha="center", va="top", fontsize=11)
fig.text(568 / W, 1 - 420 / H, "TIME(UT)", rotation=90, ha="center", va="center", fontsize=10)

fig.savefig("out.png", dpi=100)
